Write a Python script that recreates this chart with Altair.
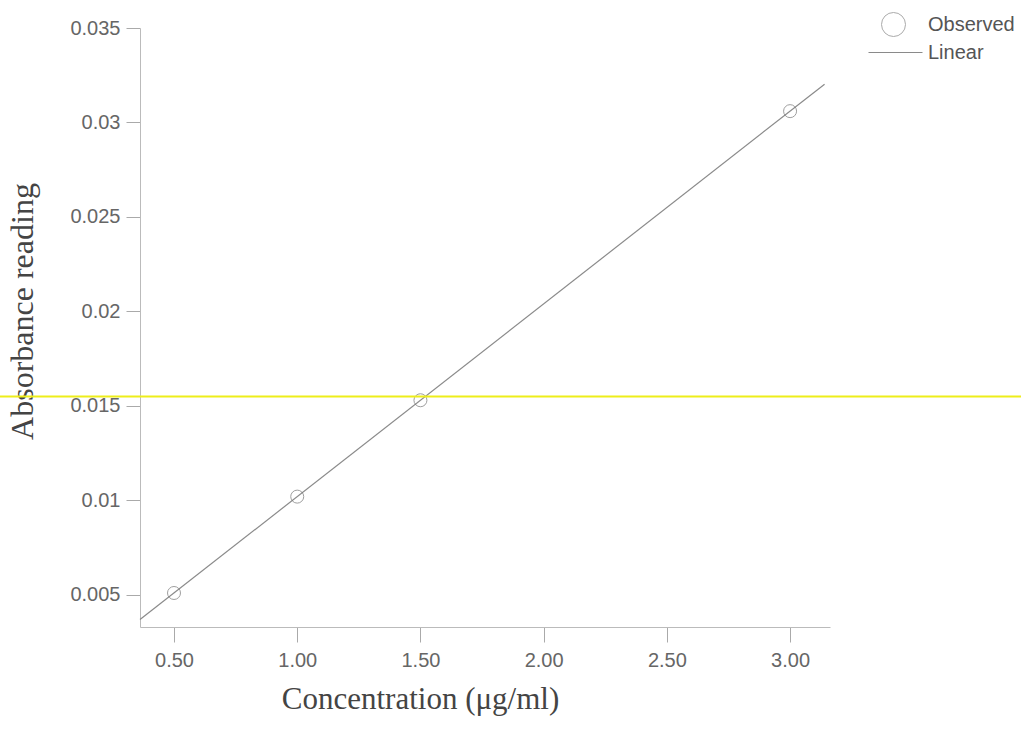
import altair as alt
import pandas as pd

# Data
conc = [0.5, 1.0, 1.5, 3.0]
absorbance = [0.0051, 0.0102, 0.0153, 0.0306]
x_ticks = [0.5, 1.0, 1.5, 2.0, 2.5, 3.0]
y_ticks = [0.005, 0.01, 0.015, 0.02, 0.025, 0.03, 0.035]
highlight_y = [0.0155]
observed_label = ["Observed"]
linear_label = ["Linear"]

pts = pd.DataFrame({"conc": conc, "abs": absorbance, "obs": observed_label * len(conc)})
hl = pd.DataFrame({"abs": highlight_y})

xscale = alt.Scale(domain=[0.362, 3.162], nice=False, zero=False)
yscale = alt.Scale(domain=[0.0033, 0.035], nice=False, zero=False)

label_font = "Liberation Sans"
title_font = "Liberation Serif"

xaxis = alt.Axis(
    values=x_ticks, format=".2f", grid=False,
    title="Concentration (μg/ml)",
    titleFont=title_font, titleFontSize=31, titleFontWeight="normal", titleColor="#444",
    titleX=280, titleY=81, titleAlign="center", titleBaseline="alphabetic",
    labelFont=label_font, labelFontSize=20, labelColor="#666", labelPadding=8,
    tickSize=15, tickColor="#aaa", domainColor="#bbb",
)
yaxis = alt.Axis(
    values=y_ticks, format="~g", grid=False,
    title="Absorbance reading",
    titleFont=title_font, titleFontSize=32, titleFontWeight="normal", titleColor="#444",
    titleX=-108, titleY=283, titleAngle=270, titleAlign="center", titleBaseline="alphabetic",
    labelFont=label_font, labelFontSize=20, labelColor="#666", labelPadding=6,
    tickSize=14, tickColor="#aaa", domainColor="#bbb",
)

X = alt.X("conc:Q", scale=xscale, axis=xaxis)
Y = alt.Y("abs:Q", scale=yscale, axis=yaxis)

line = (
    alt.Chart(pts)
    .transform_regression("conc", "abs", extent=[0.362, 3.14])
    .transform_calculate(fit='"Linear"')
    .mark_line(strokeWidth=1.2)
    .encode(
        x=X, y=Y,
        color=alt.Color(
            "fit:N",
            scale=alt.Scale(domain=linear_label, range=["#8a8a8a"]),
            legend=alt.Legend(
                title=None, orient="none", legendX=728, legendY=-3, padding=0,
                symbolType="stroke", symbolSize=2916, symbolStrokeWidth=1,
                labelFont=label_font, labelFontSize=20, labelColor="#555", labelOffset=5,
            ),
        ),
    )
)

points = (
    alt.Chart(pts)
    .mark_point(filled=False, size=169, color="#777", strokeWidth=1)
    .encode(
        x=X, y=Y,
        shape=alt.Shape(
            "obs:N",
            scale=alt.Scale(domain=observed_label, range=["circle"]),
            legend=alt.Legend(
                title=None, orient="none", legendX=741, legendY=-16, padding=0,
                symbolSize=576, symbolStrokeColor="#888", symbolStrokeWidth=1,
                labelFont=label_font, labelFontSize=20, labelColor="#555", labelOffset=22,
            ),
        ),
    )
)

highlight = (
    alt.Chart(hl)
    .mark_rule(color="#eeee1a", strokeWidth=2)
    .encode(y=Y, x=alt.value(-140), x2=alt.value(881))
)

chart = (
    alt.layer(line, points, highlight)
    .resolve_legend(color="independent", shape="independent")
    .properties(
        width=690, height=599,
        autosize=alt.AutoSizeParams(type="none"),
        padding={"left": 140, "top": 28, "right": 191, "bottom": 117},
        background="white",
    )
    .configure_view(stroke=None)
)

chart.save("out.html", embed_options={"renderer": "svg", "actions": False})
